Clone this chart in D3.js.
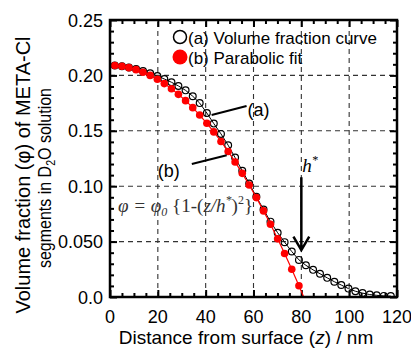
<!DOCTYPE html>
<html>
<head>
<meta charset="utf-8">
<script src="https://cdn.jsdelivr.net/npm/d3@7"></script>
<style>
  body { margin: 0; background: #fff; }
  text { font-family: "Liberation Sans", Arial, sans-serif; fill: #000; }
  .serif { font-family: "Liberation Serif", "Times New Roman", serif; font-style: italic; }
</style>
</head>
<body>
<svg id="chart" width="411" height="352"></svg>
<script>
// (a) volume fraction curve, open circles
const curveZ = [2.0, 5.0, 7.9, 10.9, 13.8, 16.8, 19.8, 22.7, 25.7, 28.6,
                31.6, 34.6, 37.5, 40.5, 43.4, 46.4, 49.4, 52.3, 55.3, 58.2,
                61.2, 64.2, 67.1, 70.1, 73.0, 76.0, 79.0, 81.9, 84.9, 87.8,
                90.8, 93.8, 96.7, 99.7, 102.6, 105.6, 108.6, 111.5, 114.5, 117.4];
const curvePhi = [0.2089, 0.2083, 0.2072, 0.2057, 0.2040, 0.2020, 0.1995, 0.1968, 0.1938, 0.1905,
                  0.1865, 0.1812, 0.1750, 0.1660, 0.1565, 0.1472, 0.1370, 0.1258, 0.1140, 0.1025,
                  0.0905, 0.0790, 0.0680, 0.0580, 0.0495, 0.0410, 0.0335, 0.0286, 0.0245, 0.0210,
                  0.0173, 0.0138, 0.0108, 0.0076, 0.0052, 0.0035, 0.0022, 0.0015, 0.0010, 0.0008];

// (b) parabolic fit, red dots
const fitZ = [2.0, 5.0, 7.9, 10.9, 13.8, 16.8, 19.8, 22.7, 25.7, 28.6,
              31.6, 34.6, 37.5, 40.5, 43.4, 46.4, 49.4, 52.3, 55.3, 58.2,
              61.2, 64.2, 67.1, 70.1, 73.0, 76.0, 79.0];
const fitPhi = [0.2089, 0.2082, 0.2070, 0.2052, 0.2029, 0.2000, 0.1965, 0.1926, 0.1880, 0.1829,
                0.1772, 0.1709, 0.1642, 0.1568, 0.1490, 0.1404, 0.1313, 0.1219, 0.1116, 0.1011,
                0.0897, 0.0777, 0.0656, 0.0525, 0.0392, 0.0250, 0.0102];
// where the fit line meets zero (h*)
const fitEnd = [81.0, 0.0];

const xTicks = [0, 20, 40, 60, 80, 100, 120];
const yTicks = [0, 0.05, 0.10, 0.15, 0.20, 0.25];
const yTickLabels = ['0.0', '0.050', '0.10', '0.15', '0.20', '0.25'];

const margin = {left: 110, right: 14, top: 20, bottom: 55};
const width = 411, height = 352;
const svg = d3.select('#chart');

const x = d3.scaleLinear().domain([0, 120]).range([margin.left, width - margin.right]);
const y = d3.scaleLinear().domain([0, 0.25]).range([height - margin.bottom, margin.top]);
const x0 = x.range()[0], x1 = x.range()[1], y0 = y.range()[0], y1 = y.range()[1];

svg.append('defs').append('clipPath').attr('id', 'plot')
  .append('rect').attr('x', x0).attr('y', y1).attr('width', x1 - x0).attr('height', y0 - y1);

// dashed grid
const grid = svg.append('g').attr('stroke', '#333').attr('stroke-width', 1.1).attr('stroke-dasharray', '5,4');
grid.selectAll('.gx').data(xTicks.slice(1, -1)).join('line')
  .attr('x1', d => x(d)).attr('x2', d => x(d)).attr('y1', y0).attr('y2', y1);
grid.selectAll('.gy').data(yTicks.slice(1, -1)).join('line')
  .attr('y1', d => y(d)).attr('y2', d => y(d)).attr('x1', x0).attr('x2', x1);

// ticks on all four sides, pointing inward
const minorX = d3.range(0, 121, 5).filter(v => v % 20 !== 0);
const minorY = d3.range(0, 26).map(v => v / 100).filter((v, i) => i % 5 !== 0);

function tickAxis(axis, scale, values, size, tr) {
  const g = svg.append('g').attr('transform', tr)
    .call(axis(scale).tickValues(values).tickSize(size).tickSizeOuter(0).tickFormat(''));
  g.select('.domain').remove();
  g.selectAll('line').attr('stroke-width', 2);
  return g;
}
tickAxis(d3.axisBottom, x, xTicks, -7, `translate(0,${y0})`);
tickAxis(d3.axisBottom, x, minorX, -4, `translate(0,${y0})`);
tickAxis(d3.axisTop, x, xTicks, -7, `translate(0,${y1})`);
tickAxis(d3.axisTop, x, minorX, -4, `translate(0,${y1})`);
tickAxis(d3.axisLeft, y, yTicks, -7, `translate(${x0},0)`);
tickAxis(d3.axisLeft, y, minorY, -4, `translate(${x0},0)`);
tickAxis(d3.axisRight, y, yTicks, -7, `translate(${x1},0)`);
tickAxis(d3.axisRight, y, minorY, -4, `translate(${x1},0)`);

// tick labels
svg.append('g').selectAll('text').data(xTicks).join('text')
  .attr('x', d => x(d)).attr('y', y0 + 26).attr('text-anchor', 'middle')
  .attr('font-size', 18).text(d => d);
svg.append('g').selectAll('text').data(yTicks).join('text')
  .attr('x', x0 - 7).attr('y', d => y(d) + 6.5).attr('text-anchor', 'end')
  .attr('font-size', 18).text((d, i) => yTickLabels[i]);

// axis titles
const xt = svg.append('text').attr('x', 246).attr('y', 344).attr('text-anchor', 'middle').attr('font-size', 19);
xt.append('tspan').text('Distance from  surface (');
xt.append('tspan').attr('font-style', 'italic').text('z');
xt.append('tspan').text(') / nm');

svg.append('text').attr('transform', 'translate(30,175) rotate(-90)')
  .attr('text-anchor', 'middle').attr('font-size', 20).text('Volume fraction  (\u03c6) of META-Cl');
const yt2 = svg.append('text').attr('transform', 'translate(51,178) rotate(-90)')
  .attr('text-anchor', 'middle').attr('font-size', 18)
  .attr('textLength', 180).attr('lengthAdjust', 'spacingAndGlyphs');
yt2.append('tspan').text('segments in D');
yt2.append('tspan').attr('font-size', 12).attr('dy', 4).text('2');
yt2.append('tspan').attr('dy', -4).text('O solution');

// data
const plot = svg.append('g').attr('clip-path', 'url(#plot)');
const curveData = curveZ.map((z, i) => [z, curvePhi[i]]);
const fitData = fitZ.map((z, i) => [z, fitPhi[i]]);
const line = d3.line().x(d => x(d[0])).y(d => y(d[1]));

plot.append('path').datum(curveData).attr('d', line)
  .attr('fill', 'none').attr('stroke', '#000').attr('stroke-width', 1);
plot.selectAll('.oc').data(curveData).join('circle')
  .attr('cx', d => x(d[0])).attr('cy', d => y(d[1])).attr('r', 3.4)
  .attr('fill', 'none').attr('stroke', '#000').attr('stroke-width', 1.2);

plot.append('path').datum(fitData.concat([fitEnd])).attr('d', line)
  .attr('fill', 'none').attr('stroke', '#f00').attr('stroke-width', 1.2);
plot.selectAll('.rd').data(fitData).join('circle')
  .attr('cx', d => x(d[0])).attr('cy', d => y(d[1])).attr('r', 3.8)
  .attr('fill', '#f00');

// frame
svg.append('rect').attr('x', x0).attr('y', y1).attr('width', x1 - x0).attr('height', y0 - y1)
  .attr('fill', 'none').attr('stroke', '#000').attr('stroke-width', 2.5);

// legend
svg.append('circle').attr('cx', 180).attr('cy', 37).attr('r', 6.5)
  .attr('fill', '#fff').attr('stroke', '#000').attr('stroke-width', 1.5);
svg.append('text').attr('x', 188).attr('y', 43.5).attr('font-size', 17).text('(a) Volume fraction curve');
svg.append('circle').attr('cx', 180).attr('cy', 57).attr('r', 7.5).attr('fill', '#f00');
svg.append('text').attr('x', 188).attr('y', 63.5).attr('font-size', 17).text('(b) Parabolic fit');

// annotations
svg.append('line').attr('x1', x(42.5)).attr('y1', y(0.1643)).attr('x2', x(57.1)).attr('y2', y(0.1724))
  .attr('stroke', '#000').attr('stroke-width', 2);
svg.append('text').attr('x', x(57.5)).attr('y', y(0.1724) + 10).attr('font-size', 18).text('(a)');
svg.append('line').attr('x1', x(34.2)).attr('y1', y(0.120)).attr('x2', x(48.8)).attr('y2', y(0.128))
  .attr('stroke', '#000').attr('stroke-width', 2);
svg.append('text').attr('x', x(20)).attr('y', y(0.108)).attr('font-size', 18).text('(b)');

// h* arrow
svg.append('path')
  .attr('d', `M${x(80)},${y(0.108)}V${y(0.0424)}M${x(76.7)},${y(0.0544)}L${x(80)},${y(0.0424)}L${x(83.3)},${y(0.0544)}`)
  .attr('fill', 'none').attr('stroke', '#000').attr('stroke-width', 2.5);
const hs = svg.append('text').attr('class', 'serif').attr('x', x(80) + 1).attr('y', 172).attr('font-size', 19);
hs.append('tspan').text('h');
hs.append('tspan').attr('dy', -8).attr('font-size', 12).text('*');

// formula
const f = svg.append('text').attr('class', 'serif').attr('x', 118).attr('y', 212)
  .attr('font-size', 19).style('fill', '#333');
f.append('tspan').text('\u03c6 = \u03c6');
f.append('tspan').attr('font-size', 12).attr('dy', 4).text('0');
f.append('tspan').attr('dy', -4).attr('font-style', 'normal').text(' {1-(');
f.append('tspan').text('z/h');
f.append('tspan').attr('font-size', 12).attr('dy', -8).text('*');
f.append('tspan').attr('dy', 8).attr('font-style', 'normal').text(')');
f.append('tspan').attr('font-size', 12).attr('dy', -8).attr('font-style', 'normal').text('2');
f.append('tspan').attr('dy', 8).attr('font-style', 'normal').text('}');
</script>
</body>
</html>
